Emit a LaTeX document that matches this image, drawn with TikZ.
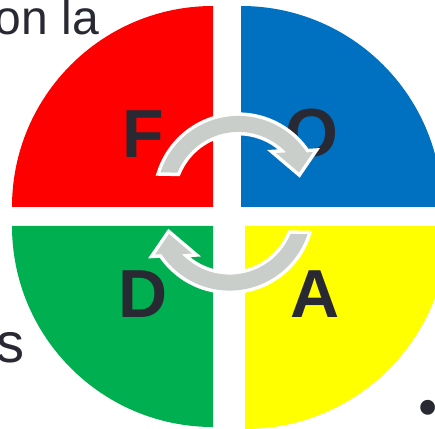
\documentclass[tikz,border=0pt]{standalone}
\usepackage{fontspec}
\setmainfont{Liberation Sans}
\newfontfamily\dotfont{Poppins}

\definecolor{fodared}{RGB}{255,0,0}
\definecolor{fodablue}{RGB}{0,112,192}
\definecolor{fodagreen}{RGB}{0,176,80}
\definecolor{fodayellow}{RGB}{255,255,0}
\definecolor{inkdark}{RGB}{41,41,51}
\definecolor{arrowgray}{RGB}{201,206,203}

\newcommand{\cyclearrow}{%
  \fill[arrowbody] ([shift={(161.8:82)}]238.4,230.1) arc[start angle=161.8,end angle=33.7,radius=82]
    -- (313,276) -- (299,255.5) -- (276,275)
    -- ([shift={(43.6:66)}]238.4,230.1) arc[start angle=43.6,end angle=157.5,radius=66] -- cycle;}

\begin{document}
\begin{tikzpicture}[x=1pt,y=1pt,
    letter/.style={anchor=base,inner sep=0pt,text=inkdark,font=\fontsize{68}{68}\selectfont\bfseries},
    prose/.style={anchor=base east,inner sep=0pt,text=inkdark},
    arrowbody/.style={fill=arrowgray,preaction={draw=white,line width=7pt}}]
  \useasboundingbox (0,0) rectangle (435,428);
  \clip (0,0) rectangle (435,428);
  \fill[fodared] (213,221) -- (12,221) arc[start angle=180,end angle=90,radius=201] -- cycle;
  \fill[fodablue] (241,221) -- (241,422) arc[start angle=90,end angle=0,radius=201] -- cycle;
  \fill[fodagreen] (213,202) -- (12,202) arc[start angle=180,end angle=270,radius=201] -- cycle;
  \fill[fodayellow] (245,202) -- (245,-1) arc[start angle=270,end angle=360,radius=203] -- cycle;
  \node[letter] (F) at (143.6,270) {F};
  \node[letter] (O) at (311.5,271) {O};
  \node[letter] (D) at (143.5,111) {D};
  \node[letter] (A) at (315.5,111) {A};
  \cyclearrow
  \begin{scope}[rotate around={180:(234,224.75)}]
    \cyclearrow
  \end{scope}
  \node[prose,font=\fontsize{48}{48}\selectfont] (onla) at (99,393) {on la};
  \node[prose,font=\fontsize{56}{56}\selectfont] (tails) at (24.5,66) {s};
  \node[anchor=base,inner sep=0pt,text=inkdark,font=\dotfont\fontsize{120}{120}\selectfont] (stop) at (428,14) {.};
\end{tikzpicture}
\end{document}
